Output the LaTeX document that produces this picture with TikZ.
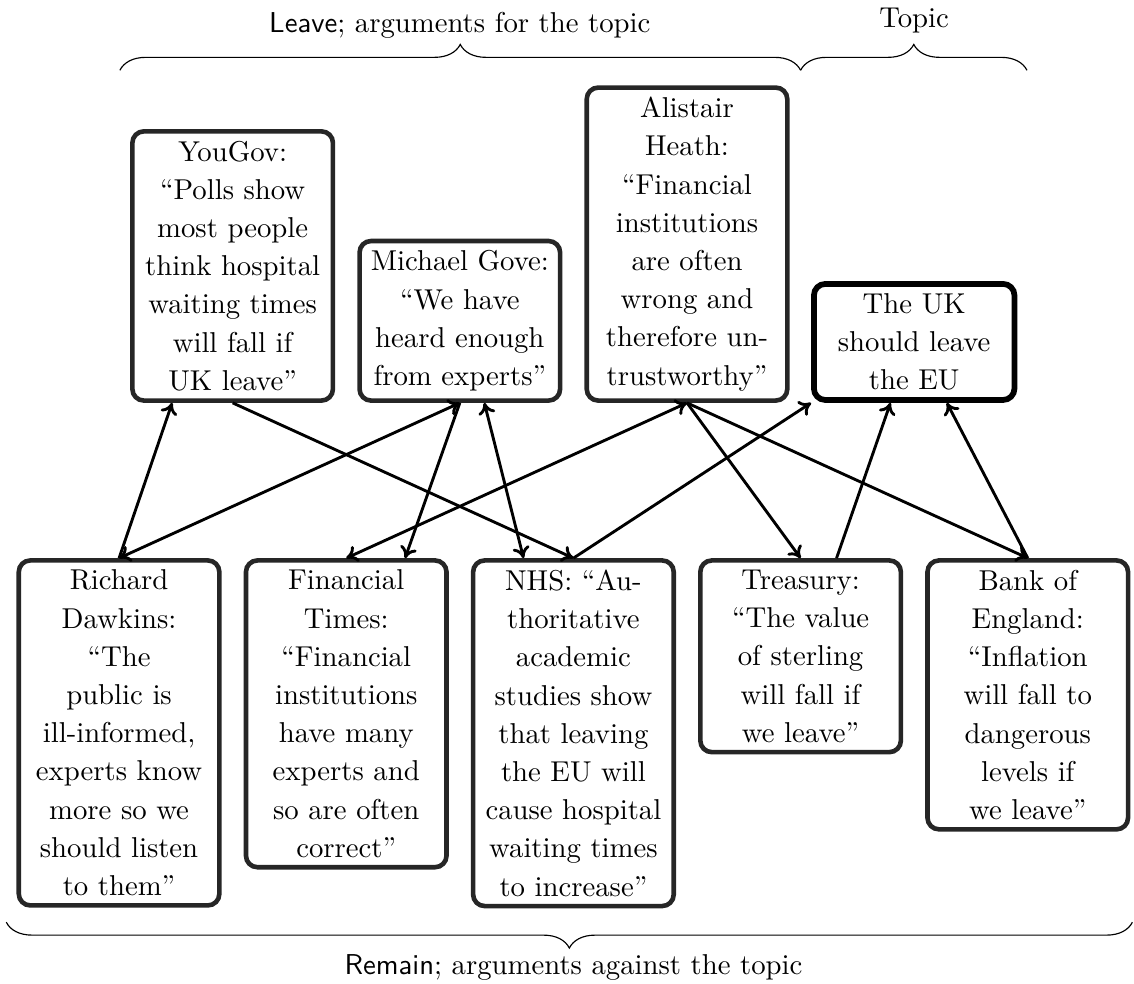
\documentclass[tikz,border=0pt]{standalone}
\usepackage{amssymb, mathtools}
\usepackage{tikz}
\usetikzlibrary{arrows.meta}
\usetikzlibrary{decorations.pathreplacing}

\begin{document}
\begin{tikzpicture}[
    >={To[length=4pt,width=6pt]},
    arg/.style={draw=black!85, line width=1.6pt, rounded corners=4pt, fill=white,
      text width=2.22cm, align=center, font=\fontsize{10}{13.3}\selectfont},
    topic/.style={arg, draw=black, line width=2pt},
    att/.style={line width=1pt},
    bracket/.style={decorate, decoration={brace, amplitude=9pt}, thin}
  ]
  \useasboundingbox (-1.457,6.83) rectangle (12.42,-5.20);

  % the Leave side and the topic
  \node [arg, anchor=south] (yougov) at (1.39,1.9) {YouGov:\\``Polls show\\most people\\think hospital\\waiting times\\will fall if\\UK leave''};
  \node [arg, anchor=south] (gove) at (4.17,1.9) {Michael Gove:\\``We have\\heard enough\\from experts''};
  \node [arg, anchor=south] (heath) at (6.95,1.9) {Alistair\\Heath:\\``Financial\\institutions\\are often\\wrong and\\therefore un-\\trustworthy''};
  \node [topic, anchor=south] (uk) at (9.73,1.9) {The UK\\should leave\\the EU};

  % the Remain side
  \node [arg, anchor=north] (dawkins) at (0,0) {Richard\\Dawkins:\\``The\\public is\\ill-informed,\\experts know\\more so we\\should listen\\to them''};
  \node [arg, anchor=north] (ft) at (2.78,0) {Financial\\Times:\\``Financial\\institutions\\have many\\experts and\\so are often\\correct''};
  \node [arg, anchor=north] (nhs) at (5.56,0) {NHS: ``Au-\\thoritative\\academic\\studies show\\that leaving\\the EU will\\cause hospital\\waiting times\\to increase''};
  \node [arg, anchor=north] (treasury) at (8.34,0) {Treasury:\\``The value\\of sterling\\will fall if\\we leave''};
  \node [arg, anchor=north] (boe) at (11.12,0) {Bank of\\England:\\``Inflation\\will fall to\\dangerous\\levels if\\we leave''};

  % attacks
  \draw [att, ->] (dawkins.north) -- ([xshift=-0.74cm]yougov.south);
  \draw [att, <->] (dawkins.north) -- (gove.south);
  \draw [att, ->] (yougov.south) -- (nhs.north);
  \draw [att, ->] (gove.south) -- ([xshift=0.72cm]ft.north);
  \draw [att, <->] ([xshift=0.3cm]gove.south) -- ([xshift=-0.61cm]nhs.north);
  \draw [att, <->] (heath.south) -- (ft.north);
  \draw [att, ->] (nhs.north) -- (uk.south west);
  \draw [att, ->] (heath.south) -- (treasury.north);
  \draw [att, ->] (heath.south) -- (boe.north);
  \draw [att, ->] ([xshift=0.44cm]treasury.north) -- ([xshift=-0.29cm]uk.south);
  \draw [att, ->] (boe.north) -- ([xshift=0.4cm]uk.south);

  % braces and their labels
  \draw [bracket] (0.01,5.97) -- (8.34,5.97);
  \draw [bracket] (8.34,5.97) -- (11.11,5.97);
  \draw [bracket] (12.40,-4.455) -- (-1.38,-4.455);
  \node [anchor=base] (leavelbl) at (4.17,6.43) {\textsf{Leave}; arguments for the topic};
  \node [anchor=base] (topiclbl) at (9.73,6.49) {Topic};
  \node [anchor=base] (remainlbl) at (5.56,-5.10) {\textsf{Remain}; arguments against the topic};
\end{tikzpicture}
\end{document}
